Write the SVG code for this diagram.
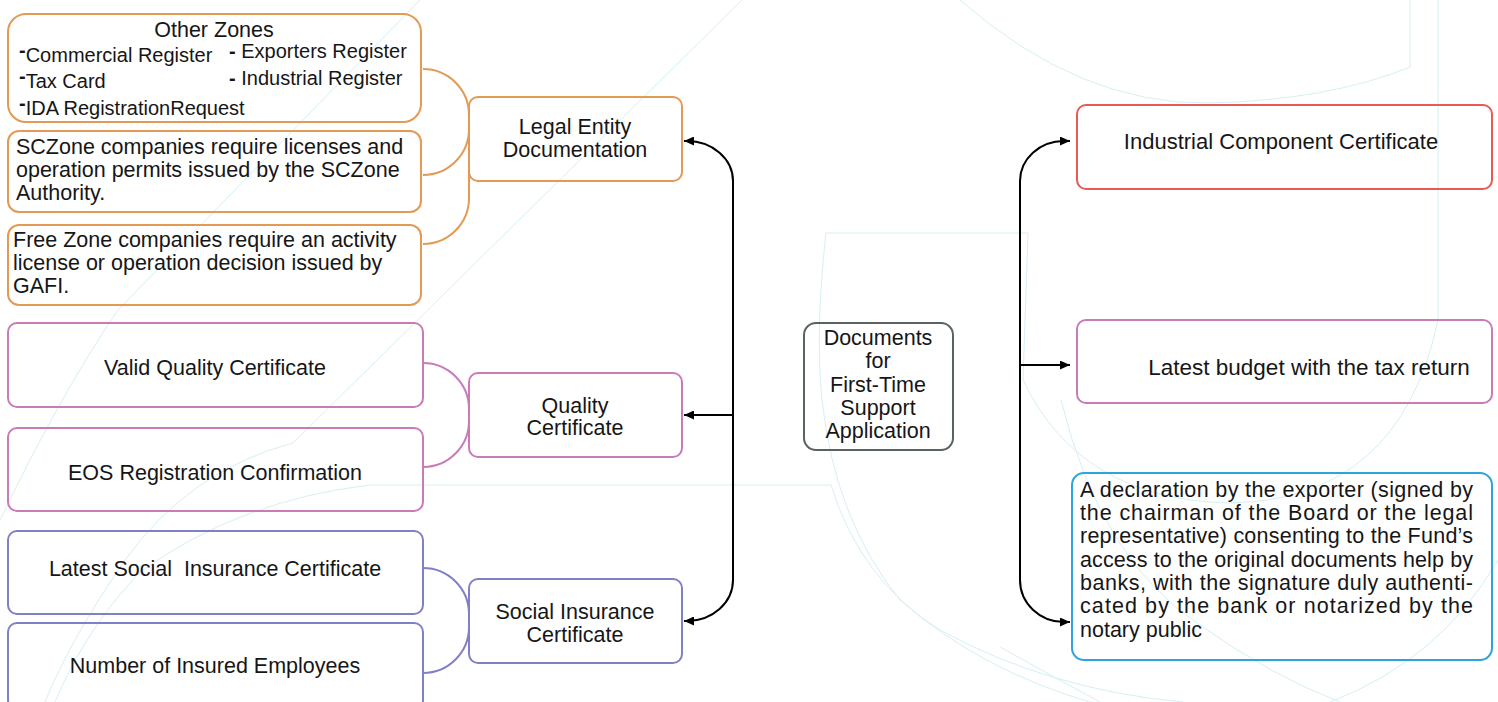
<svg xmlns="http://www.w3.org/2000/svg" width="1498" height="702" viewBox="0 0 1498 702">
  <defs>
    <style>
      text { font-family: "Liberation Sans", Arial, sans-serif; font-size: 21.5px; fill: #161616; }
      .c { text-anchor: middle; }
      .sm { font-size: 20px; }
      .lg { font-size: 22.5px; }
      .md { font-size: 22px; }
      .dash { font-weight: bold; }
      .pre { white-space: pre; }
      .box { fill: none; stroke-width: 2; }
      .org { stroke: #e29a55; }
      .pnk { stroke: #c97bb7; }
      .prp { stroke: #8080c6; }
      .red { stroke: #e85a55; }
      .blu { stroke: #2ea4de; }
      .gry { stroke: #5a6363; }
      .brk { fill: none; stroke-width: 2; }
      .lnk { fill: none; stroke: #000; stroke-width: 2; }
      .wm { fill: none; stroke: #d6eff3; stroke-width: 1; }
    </style>
    <marker id="arrow" viewBox="0 0 10 9" refX="10" refY="4.5" markerWidth="10" markerHeight="9" markerUnits="userSpaceOnUse" orient="auto-start-reverse">
      <path d="M0,0 L10,4.5 L0,9 Z" fill="#000"/>
    </marker>
  </defs>

  <!-- faint background emblem -->
  <g id="background">
    <path class="wm" d="M420,0 L118,310 Q60,395 0,520"/>
    <path class="wm" d="M742,0 L293,443 Q190,470 125,560 Q70,640 45,702"/>
    <path class="wm" d="M831,485 L370,485 Q240,500 140,572 Q85,630 55,702"/>
    <path class="wm" d="M831,485 Q860,580 940,630 Q1050,690 1183,702"/>
    <path class="wm" d="M826,233 Q815,330 822,400 Q835,520 900,600 Q980,670 1090,702"/>
    <path class="wm" d="M960,0 Q1080,105 1209,103 Q1330,100 1410,67 L1410,0"/>
    <path class="wm" d="M826,233 L1028,233 L1023,380 Q1080,500 1230,503 Q1400,500 1438,320 L1438,0"/>
    <path class="wm" d="M1061,400 Q1100,560 1200,625 Q1270,675 1340,702"/>
    <path class="wm" d="M1498,560 Q1440,660 1330,702"/>
    <path class="wm" d="M1000,647 Q1050,675 1100,702"/>
  </g>

  <!-- brackets and arrows -->
  <g id="connectors">
    <path class="brk org" d="M423,69 A46,46 0 0 1 469,115 L469,129 A46,46 0 0 1 423,175"/>
    <path class="brk org" d="M469,129 L469,198 A46,46 0 0 1 423,244"/>
    <path class="brk pnk" d="M423,363 A46,46 0 0 1 469,409 L469,421 A46,46 0 0 1 423,467"/>
    <path class="brk prp" d="M423,568 A46,46 0 0 1 469,614 L469,627 A46,46 0 0 1 423,673"/>

    <path class="lnk" d="M684,141 L687,141 A46,40 0 0 1 733,181 L733,580 A46,41 0 0 1 687,621 L684,621" marker-start="url(#arrow)" marker-end="url(#arrow)"/>
    <path class="lnk" d="M733,415 L684,415" marker-end="url(#arrow)"/>

    <path class="lnk" d="M1070,141 L1064,141 A44,40 0 0 0 1020,181 L1020,580 A44,42 0 0 0 1064,622 L1070,622" marker-start="url(#arrow)" marker-end="url(#arrow)"/>
    <path class="lnk" d="M1020,365 L1070,365" marker-end="url(#arrow)"/>
  </g>

  <g id="n-other-zones">
    <rect class="box org" x="8" y="14" width="413" height="108" rx="18"/>
    <text class="c" x="214" y="37">Other Zones</text>
    <text class="sm" x="19" y="62"><tspan class="dash" dy="-5">-</tspan><tspan dy="5">Commercial Register</tspan></text>
    <text class="sm" x="19" y="88"><tspan class="dash" dy="-5">-</tspan><tspan dy="5">Tax Card</tspan></text>
    <text class="sm" x="19" y="115"><tspan class="dash" dy="-5">-</tspan><tspan dy="5">IDA RegistrationRequest</tspan></text>
    <text class="sm" x="229" y="58"><tspan class="dash">-</tspan> Exporters Register</text>
    <text class="sm" x="229" y="85"><tspan class="dash">-</tspan> Industrial Register</text>
  </g>

  <g id="n-sczone">
    <rect class="box org" x="8" y="131" width="413" height="81" rx="11"/>
    <text x="16" y="154">SCZone companies require licenses and</text>
    <text x="16" y="177">operation permits issued by the SCZone</text>
    <text x="16" y="200">Authority.</text>
  </g>

  <g id="n-free-zone">
    <rect class="box org" x="8" y="225" width="413" height="80" rx="11"/>
    <text x="13" y="247">Free Zone companies require an activity</text>
    <text x="13" y="270">license or operation decision issued by</text>
    <text x="13" y="293">GAFI.</text>
  </g>

  <g id="n-legal-entity">
    <rect class="box org" x="469" y="97" width="213" height="84" rx="9"/>
    <text class="c" x="575" y="134">Legal Entity</text>
    <text class="c" x="575" y="157">Documentation</text>
  </g>

  <g id="n-valid-quality">
    <rect class="box pnk" x="8" y="323" width="415" height="84" rx="9"/>
    <text class="c" x="215" y="375">Valid Quality Certificate</text>
  </g>

  <g id="n-eos">
    <rect class="box pnk" x="8" y="428" width="415" height="83" rx="9"/>
    <text class="c" x="215" y="480">EOS Registration Confirmation</text>
  </g>

  <g id="n-quality">
    <rect class="box pnk" x="469" y="373" width="213" height="84" rx="9"/>
    <text class="c" x="575" y="413">Quality</text>
    <text class="c" x="575" y="435">Certificate</text>
  </g>

  <g id="n-latest-social">
    <rect class="box prp" x="8" y="531" width="415" height="83" rx="9"/>
    <text class="c pre" x="215" y="576">Latest Social  Insurance Certificate</text>
  </g>

  <g id="n-insured">
    <rect class="box prp" x="8" y="623" width="415" height="86" rx="9"/>
    <text class="c" x="215" y="673">Number of Insured Employees</text>
  </g>

  <g id="n-social">
    <rect class="box prp" x="469" y="579" width="213" height="84" rx="9"/>
    <text class="c" x="575" y="619">Social Insurance</text>
    <text class="c" x="575" y="642">Certificate</text>
  </g>

  <g id="n-documents">
    <rect class="box gry" x="804" y="323" width="149" height="127" rx="12"/>
    <text class="c" x="878" y="345">Documents</text>
    <text class="c" x="878" y="368">for</text>
    <text class="c" x="878" y="392">First-Time</text>
    <text class="c" x="878" y="415">Support</text>
    <text class="c" x="878" y="438">Application</text>
  </g>

  <g id="n-industrial">
    <rect class="box red" x="1077" y="105" width="415" height="84" rx="9"/>
    <text class="c md" x="1281" y="149">Industrial Component Certificate</text>
  </g>

  <g id="n-budget">
    <rect class="box pnk" x="1077" y="320" width="415" height="83" rx="9"/>
    <text class="c lg" x="1309" y="375">Latest budget with the tax return</text>
  </g>

  <g id="n-declaration">
    <rect class="box blu" x="1072" y="473" width="420" height="187" rx="12"/>
    <text x="1080" y="497" textLength="393" lengthAdjust="spacing">A declaration by the exporter (signed by</text>
    <text x="1080" y="520" textLength="393" lengthAdjust="spacing">the chairman of the Board or the legal</text>
    <text x="1080" y="543" textLength="393" lengthAdjust="spacing">representative) consenting to the Fund’s</text>
    <text x="1080" y="567" textLength="393" lengthAdjust="spacing">access to the original documents help by</text>
    <text x="1080" y="590" textLength="393" lengthAdjust="spacing">banks, with the signature duly authenti-</text>
    <text x="1080" y="613" textLength="393" lengthAdjust="spacing">cated by the bank or notarized by the</text>
    <text x="1080" y="637">notary public</text>
  </g>
</svg>
